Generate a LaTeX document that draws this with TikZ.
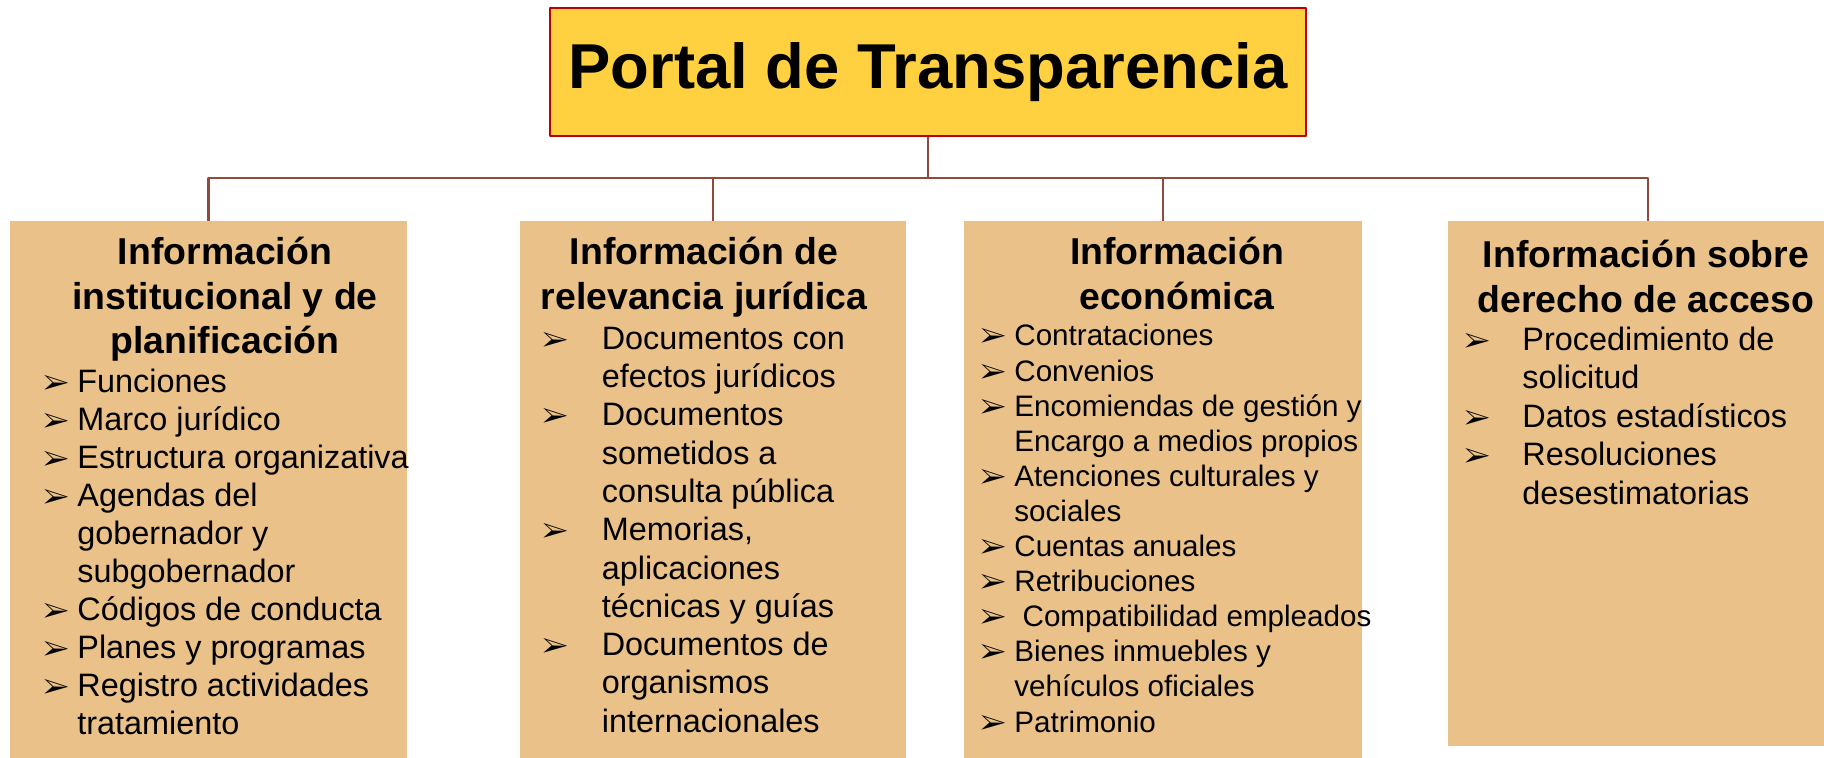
\documentclass[tikz,border=0pt]{standalone}
\usepackage{fontspec}
\usepackage{pifont}
\setmainfont{Liberation Sans}
\definecolor{titlefill}{RGB}{255,208,64}
\definecolor{titleline}{RGB}{192,0,0}
\definecolor{boxfill}{RGB}{234,193,137}
\definecolor{linkline}{RGB}{145,75,60}
\newlength{\bulgap}
\newcommand{\bul}{\makebox[\bulgap][l]{\fontsize{14}{14}\selectfont\ding{226}}}
\newcommand{\ind}{\hspace*{\bulgap}}
\begin{document}
\begin{tikzpicture}[x=.5pt,y=-.5pt,line join=round,
	link/.style={draw=linkline,line width=1.3pt},
	panel/.style={fill=boxfill,inner sep=0,anchor=north},
	head/.style={font=\bfseries\fontsize{18.7}{22.3}\selectfont,align=center,anchor=north,inner sep=0},
	items/.style={align=left,anchor=north west,inner sep=0}]
	\useasboundingbox[fill=white] (0,0) rectangle (1824,758);
	\clip (0,0) rectangle (1824,758);
	\node[fill=titlefill,draw=titleline,line width=1pt,minimum width=378pt,minimum height=64pt,font=\bfseries\fontsize{31.7}{36}\selectfont] (portal) at (928,72) {Portal de Transparencia};
	\node[panel,minimum width=198.5pt,minimum height=280pt] (inst) at (208.5,221) {};
	\node[panel,minimum width=193pt,minimum height=280pt] (jur) at (713,221) {};
	\node[panel,minimum width=199pt,minimum height=280pt] (eco) at (1163,221) {};
	\node[panel,minimum width=200pt,minimum height=262.5pt] (acc) at (1648,221) {};
	\coordinate (bus) at (928,178);
	\draw[link] (portal.south)--(bus) (bus)-|(inst.north) (bus)-|(jur.north) (bus)-|(eco.north) (bus)-|(acc.north);
	% cabeceras
	\node[head] (insthead) at (225,233) {\strut Información\\institucional y de\\planificación};
	\node[head] (jurhead) at (704,233) {\strut Información de\\relevancia jurídica};
	\node[head] (ecohead) at (1177,233) {\strut Información\\económica};
	\node[head] (acchead) at (1646,236) {\strut Información sobre\\derecho de acceso};
	% listas
	\global\bulgap=17pt
	\node[items,font=\fontsize{16.2}{19.05}\selectfont] (instlist) at (43,365) {\strut\bul Funciones\\
		\bul Marco jurídico\\
		\bul Estructura organizativa\\
		\bul Agendas del\\
		\ind gobernador y\\
		\ind subgobernador\\
		\bul Códigos de conducta\\
		\bul Planes y programas\\
		\bul Registro actividades\\
		\ind tratamiento};
	\global\bulgap=29.7pt
	\node[items,font=\fontsize{16.2}{19.15}\selectfont] (jurlist) at (542,322) {\strut\bul Documentos con\\
		\ind efectos jurídicos\\
		\bul Documentos\\
		\ind sometidos a\\
		\ind consulta pública\\
		\bul Memorias,\\
		\ind aplicaciones\\
		\ind técnicas y guías\\
		\bul Documentos de\\
		\ind organismos\\
		\ind internacionales};
	\global\bulgap=17pt
	\node[items,font=\fontsize{14.8}{17.55}\selectfont] (ecolist) at (980,321) {\strut\bul Contrataciones\\
		\bul Convenios\\
		\bul Encomiendas de gestión y\\
		\ind Encargo a medios propios\\
		\bul Atenciones culturales y\\
		\ind sociales\\
		\bul Cuentas anuales\\
		\bul Retribuciones\\
		\bul\ Compatibilidad empleados\\
		\bul Bienes inmuebles y\\
		\ind vehículos oficiales\\
		\bul Patrimonio};
	\global\bulgap=29pt
	\node[items,font=\fontsize{16.2}{19.25}\selectfont] (acclist) at (1464,323) {\strut\bul Procedimiento de\\
		\ind solicitud\\
		\bul Datos estadísticos\\
		\bul Resoluciones\\
		\ind desestimatorias};
\end{tikzpicture}
\end{document}
